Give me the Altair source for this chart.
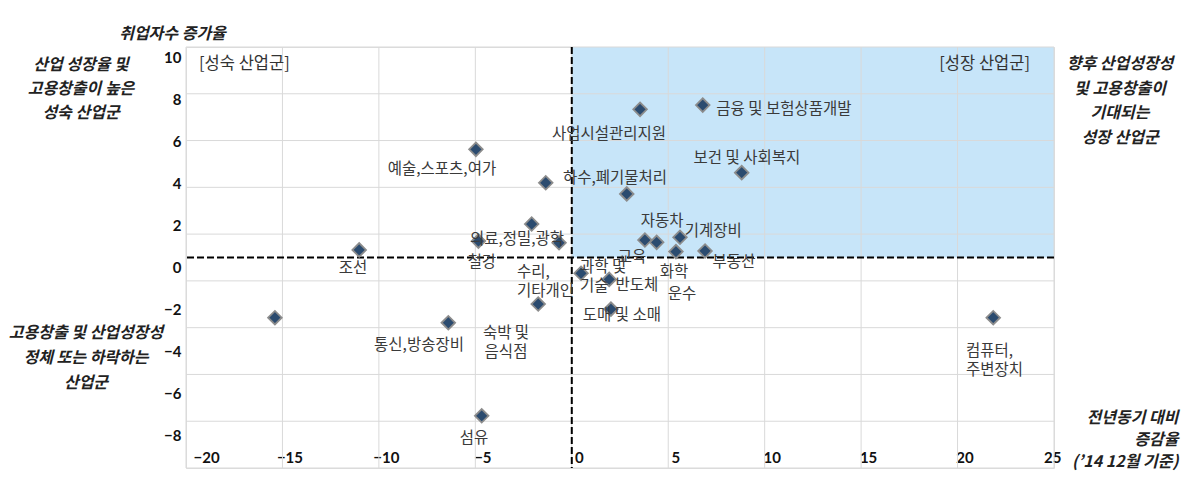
import altair as alt
import pandas as pd

# ---------------- data ----------------
X_DOMAIN = [-20, 25]
Y_DOMAIN = [-10, 10]
X_TICKS = [-20, -15, -10, -5, 0, 5, 10, 15, 20, 25]
Y_TICKS = [10, 8, 6, 4, 2, 0, -2, -4, -6, -8]

# industries (x: 전년동기 대비 증감율, y: 취업자수 증가율)
point_x = [-15.39, -11.02, -4.97, -1.35, 2.85, 3.54, 6.79, 8.81, -2.08, -4.84,
           -0.66, 3.79, 4.40, 5.61, 5.40, 6.91, 0.48, 1.94, -1.74, 2.03,
           -6.40, -4.67, 21.85]
point_y = [-2.86, 0.36, 5.14, 3.55, 3.02, 7.04, 7.24, 4.03, 1.59, 0.78,
           0.70, 0.83, 0.72, 0.96, 0.28, 0.31, -0.75, -1.04, -2.21, -2.45,
           -3.10, -7.52, -2.86]

# data labels (text, anchor in data units, alignment)
label_text = ["조선", "예술,스포츠,여가", "하수,폐기물처리", "사업시설관리지원",
              "금융 및 보험상품개발", "보건 및 사회복지", "의료,정밀,광학", "철강",
              "자동차", "기계장비", "교육", "부동산", "수리,\n기타개인", "과학 및\n기술",
              "반도체", "화학", "운수", "도매 및 소매", "통신,방송장비",
              "숙박 및\n음식점", "컴퓨터,\n주변장치", "섬유"]
label_x = [-11.34, -6.73, 2.24, 1.93, 11.0, 9.08, -2.84, -4.66,
           4.69, 7.34, 3.12, 8.41, -2.84, 0.43,
           3.38, 5.30, 5.71, 2.60, -7.92,
           -3.41, 20.44, -5.07]
label_y = [-0.50, 4.20, 3.78, 5.87, 7.05, 4.73, 0.88, -0.21,
           1.73, 1.26, 0.02, -0.21, -0.69, -0.45,
           -1.31, -0.69, -1.73, -2.73, -4.16,
           -3.59, -4.44, -8.57]
label_align = ["center"] * 12 + ["left", "left"] + ["center"] * 5 + ["center", "left", "center"]

pts = pd.DataFrame({"x": point_x, "y": point_y})
lbl = pd.DataFrame({"t": label_text, "x": label_x, "y": label_y, "al": label_align})

# ---------------- styling ----------------
KFONT = "Noto Sans CJK KR"
NFONT = "Lato"
GRID = "#D9D9D9"

X_SC = alt.Scale(domain=X_DOMAIN, nice=False, zero=False)
Y_SC = alt.Scale(domain=Y_DOMAIN, nice=False, zero=False)

X_AX = alt.Axis(values=X_TICKS, grid=False, ticks=False, tickSize=0, domain=False,
                labelFont=NFONT, labelFontSize=15, labelFontWeight="bold", labelColor="#111",
                labelBaseline="middle", labelPadding=-11, labelOffset=7,
                title=["전년동기 대비", "증감율", "(’14 12월 기준)"],
                titleFont=KFONT, titleFontSize=16, titleFontWeight="bold", titleFontStyle="italic",
                titleColor="#222", titleAngle=0, titleAlign="right", titleBaseline="middle",
                titleX=992, titleY=-51, titleLineHeight=22)
Y_AX = alt.Axis(values=Y_TICKS, grid=False, ticks=False, tickSize=0, domain=False,
                labelFont=NFONT, labelFontSize=15, labelFontWeight="bold", labelColor="#111",
                labelOffset=10, labelPadding=5,
                title="취업자수 증가율", titleFont=KFONT, titleFontSize=16, titleFontWeight="bold",
                titleFontStyle="italic", titleColor="#222", titleAngle=0, titleAlign="center",
                titleBaseline="middle", titleX=-14, titleY=-14)

# quadrant rect (x >= 0, y >= 0)
quad = pd.DataFrame({"x0": [0], "x1": [X_DOMAIN[1]], "y0": [0], "y1": [Y_DOMAIN[1]]})
rect = alt.Chart(quad).mark_rect(color="#C7E5F9").encode(
    x=alt.X("x0:Q", scale=X_SC, axis=X_AX), x2="x1:Q",
    y=alt.Y("y0:Q", scale=Y_SC, axis=Y_AX), y2="y1:Q")

# grid lines
grid_y_vals = [Y_DOMAIN[1] - k * (Y_DOMAIN[1] - Y_DOMAIN[0]) / 9 for k in range(10)]
gx = alt.Chart(pd.DataFrame({"x": X_TICKS})).mark_rule(color=GRID, strokeWidth=1).encode(
    x=alt.X("x:Q", scale=X_SC, axis=X_AX))
gy = alt.Chart(pd.DataFrame({"y": grid_y_vals})).mark_rule(color=GRID, strokeWidth=1).encode(
    y=alt.Y("y:Q", scale=Y_SC, axis=Y_AX))

# dashed reference lines at 0
zero = pd.DataFrame({"v": [0]})
vline = alt.Chart(zero).mark_rule(color="#000", strokeWidth=2, strokeDash=[7, 3]).encode(
    x=alt.X("v:Q", scale=X_SC, axis=X_AX))
hline = alt.Chart(zero).mark_rule(color="#000", strokeWidth=2, strokeDash=[7, 3]).encode(
    y=alt.Y("v:Q", scale=Y_SC, axis=Y_AX))

points = alt.Chart(pts).mark_point(shape="diamond", filled=True, size=185, fill="#2B4B6F",
                                   stroke="#8C8C8C", strokeWidth=1.8, opacity=1).encode(
    x=alt.X("x:Q", scale=X_SC, axis=X_AX), y=alt.Y("y:Q", scale=Y_SC, axis=Y_AX))

def label_layer(al):
    return alt.Chart(lbl).transform_filter(alt.datum.al == al).mark_text(
        font=KFONT, fontSize=15.5, color="#3A3A3A", align=al, baseline="middle",
        lineBreak="\n", lineHeight=19).encode(
        x=alt.X("x:Q", scale=X_SC, axis=X_AX), y=alt.Y("y:Q", scale=Y_SC, axis=Y_AX), text="t:N")

one = pd.DataFrame({"a": [0]})

def note(lines, x, y, lh, align="center", size=16, style="italic", weight="bold", color="#222"):
    return alt.Chart(one).mark_text(text=lines, font=KFONT, fontSize=size, fontStyle=style,
                                    fontWeight=weight, color=color, align=align,
                                    baseline="middle", lineHeight=lh).encode(
        x=alt.value(x), y=alt.value(y))

notes = [
    note(["산업 성장율 및", "고용창출이 높은", "성숙 산업군"], -105, 18, 24),
    note(["고용창출 및 산업성장성", "정체 또는 하락하는", "산업군"], -100, 286, 25),
    note(["향후 산업성장성", "및 고용창출이", "기대되는", "성장 산업군"], 934, 17, 24.5),
    note("[성숙 산업군]", 13, 17, 18, align="left", size=16.5, style="normal", weight="normal", color="#333"),
    note("[성장 산업군]", 844, 17, 18, align="right", size=16.5, style="normal", weight="normal", color="#333"),
]

chart = alt.layer(rect, gx, gy, vline, hline, points, label_layer("center"), label_layer("left"),
                  *notes).properties(
    width=868, height=421,
    autosize=alt.AutoSizeParams(type="none"),
    padding={"left": 178, "top": 39, "right": 133, "bottom": 6},
).configure_view(stroke=GRID, strokeWidth=1).configure(background="white")

chart.save("out.html", embed_options={"renderer": "svg", "actions": False})
